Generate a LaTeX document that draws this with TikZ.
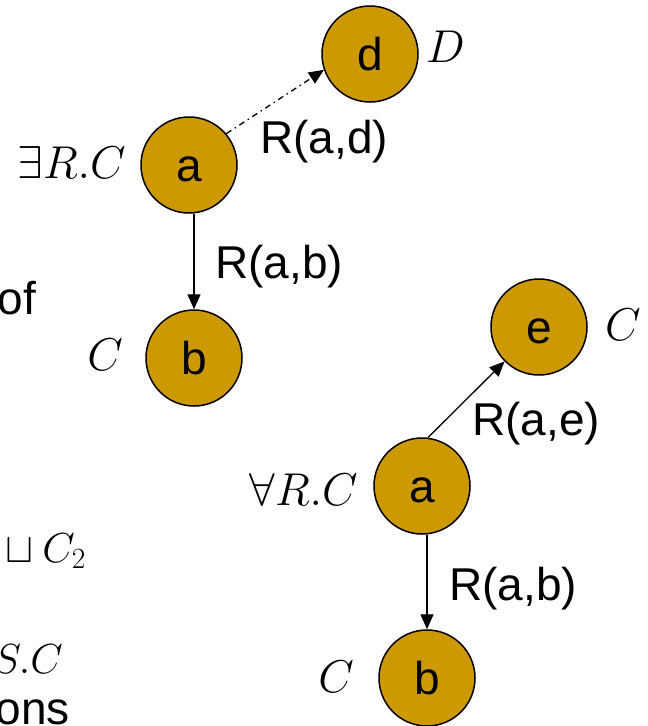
\RequirePackage{fix-cm}
\documentclass[tikz,border=0pt]{standalone}
\usepackage{fontspec}
\setmainfont{Liberation Sans}
\usetikzlibrary{arrows.meta}
\definecolor{gold}{HTML}{CC9900}
\tikzset{
  ind/.style={circle, draw=black, line width=1.5pt, fill=gold, minimum size=96pt,
    inner sep=0pt, font=\fontsize{46}{50}\selectfont, text height=33pt, text depth=0pt},
  rel/.style={-{Triangle[length=15pt,width=13pt]}, line width=1.3pt},
  dashdot/.style={dash pattern=on 6pt off 4pt on 1.5pt off 4pt},
  lbl/.style={inner sep=0pt, font=\fontsize{46}{50}\selectfont},
  sml/.style={inner sep=0pt, font=\fontsize{42}{46}\selectfont},
}
\begin{document}
\begin{tikzpicture}[x=1pt, y=-1pt]
\useasboundingbox (0,0) rectangle (648,726);
\clip (0,0) rectangle (648,726);
% cut-off text on the left
\node[lbl, anchor=base east] (tof) at (36,314) {of};
\node[sml, anchor=base east] (tsq) at (86,562) {${}\sqcup C_2$};
\node[sml, anchor=base east] (tsc) at (63,673) {$S.C$};
\node[lbl, anchor=base east] (tons) at (70,724) {ons};
% left graph
\node[ind] (d) at (370,54) {d};
\node[ind] (a1) at (189,165) {a};
\node[ind] (b1) at (194,358) {b};
\draw[rel, dashdot] (a1.40) -- (d.199);
\draw[rel] (a1.south -| b1.north) -- (b1.north);
\node[lbl, anchor=base west] (lad) at (260,153) {R(a,d)};
\node[lbl, anchor=base west] (lab1) at (215,278) {R(a,b)};
\node[lbl, anchor=base west] (cd) at (426,62) {$D$};
\node[lbl, anchor=base east] (ca1) at (126,178) {$\exists R.C$};
\node[lbl, anchor=base east] (cb1) at (123,370) {$C$};
% right graph
\node[ind] (e) at (539,327) {e};
\node[ind] (a2) at (422,486) {a};
\node[ind] (b2) at (427,678) {b};
\draw[rel] (a2.83) -- (e.225);
\draw[rel] (a2.south -| b2.north) -- (b2.north);
\node[lbl, anchor=base west] (lae) at (472,435) {R(a,e)};
\node[lbl, anchor=base west] (lab2) at (449,600) {R(a,b)};
\node[lbl, anchor=base west] (ce) at (605,340) {$C$};
\node[lbl, anchor=base east] (ca2) at (358,505) {$\forall R.C$};
\node[lbl, anchor=base east] (cb2) at (354,692) {$C$};
\end{tikzpicture}
\end{document}
